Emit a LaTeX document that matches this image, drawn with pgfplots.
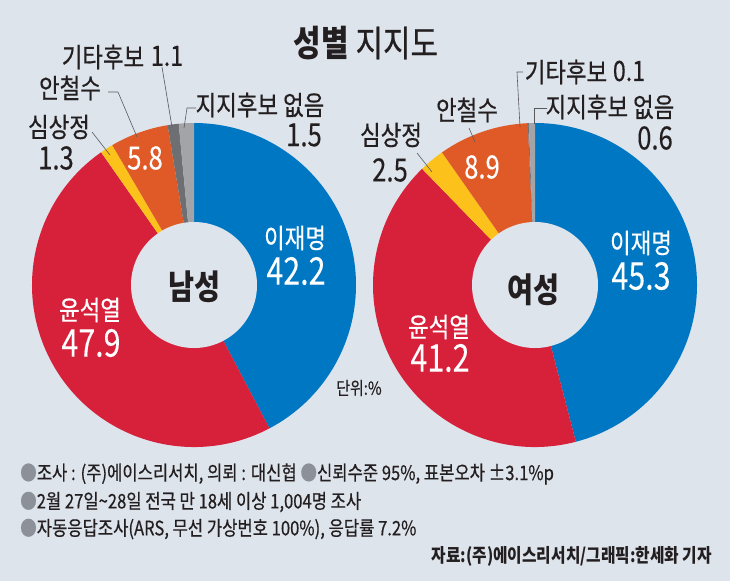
\documentclass[border=0pt]{standalone}
\usepackage{pgfplots}
\usepackage{pgfplotstable}
\pgfplotsset{compat=1.18}
\usepackage{fontspec}
\setmainfont{Noto Sans CJK KR}[FakeStretch=0.83, UprightFeatures={FakeBold=0.5}]
\newfontfamily\nf{Noto Sans CJK KR}[FakeStretch=0.8, UprightFeatures={FakeBold=0.15}]
\definecolor{bgc}{HTML}{DEE4EC}
\definecolor{cjm}{HTML}{0077C2}
\definecolor{cys}{HTML}{D7203A}
\definecolor{csj}{HTML}{FCC21B}
\definecolor{cac}{HTML}{E05A27}
\definecolor{cetc}{HTML}{6E6F72}
\definecolor{cnone}{HTML}{A2A4A8}
\definecolor{txt}{HTML}{231F20}
\definecolor{bul}{HTML}{8C9099}
\definecolor{lead}{HTML}{5A5A5E}

\pgfplotstableread{
cand val col
이재명 42.2 cjm
윤석열 47.9 cys
심상정 1.3 csj
안철수 5.8 cac
기타후보 1.1 cetc
없음 1.5 cnone
}\male
\pgfplotstableread{
cand val col
이재명 45.3 cjm
윤석열 41.2 cys
심상정 2.5 csj
안철수 8.9 cac
기타후보 0.1 cetc
없음 0.6 cnone
}\female

\newcommand\donut[5]{%
  \pgfplotstablegetrowsof{#1}\pgfmathtruncatemacro\nlast{\pgfplotsretval-1}%
  \gdef\dtot{0}%
  \foreach \i in {0,...,\nlast}{%
    \pgfplotstablegetelem{\i}{val}\of{#1}%
    \pgfmathsetmacro\dtmp{\dtot+\pgfplotsretval}\xdef\dtot{\dtmp}}%
  \pgfmathsetmacro\dk{360/\dtot}%
  \gdef\dcum{0}%
  \foreach \i in {0,...,\nlast}{%
    \pgfplotstablegetelem{\i}{val}\of{#1}\let\segv\pgfplotsretval
    \pgfplotstablegetelem{\i}{col}\of{#1}\let\segcol\pgfplotsretval
    \pgfmathsetmacro\aA{90-\dk*\dcum}%
    \pgfmathsetmacro\aB{90-\dk*(\dcum+\segv)}%
    \fill[\segcol] (axis cs:#2,#3) -- ++(\aA:#4pt) arc[start angle=\aA,end angle=\aB,radius=#4pt] -- cycle;
    \pgfmathsetmacro\dtmp{\dcum+\segv}\xdef\dcum{\dtmp}}%
  \fill[bgc] (axis cs:#2,#3) circle[radius=#5pt];
}
\newcommand\fs[1]{\fontsize{#1}{#1}\selectfont}

\begin{document}
\begin{tikzpicture}
\begin{axis}[
  scale only axis, width=730pt, height=581pt,
  xmin=0, xmax=730, ymin=0, ymax=581, y dir=reverse,
  enlargelimits=false, axis lines=none, ticks=none, clip=false,
]
\pgfplotsextra{
  \fill[bgc] (axis cs:0,0) rectangle (axis cs:730,581);
  \donut{\male}{194}{285}{162}{63}
  \donut{\female}{535}{285}{162}{63}
  % title
  \node[txt] at (axis cs:366,43) {\fs{36}\textbf{성별} 지지도};
  % left donut labels
  \node[white] at (axis cs:295,238) {\fs{27}이재명};
  \node[white] at (axis cs:296,271) {\nf\fs{38}42.2};
  \node[white] at (axis cs:90,310) {\fs{27}윤석열};
  \node[white] at (axis cs:91,343) {\nf\fs{38}47.9};
  \node[txt] at (axis cs:194,287) {\fs{34}\textbf{남성}};
  \node[white] at (axis cs:145,158) {\nf\fs{32}5.8};
  \node[txt] at (axis cs:59,127) {\fs{27}심상정};
  \node[txt] at (axis cs:56,158) {\nf\fs{32}1.3};
  \node[txt] at (axis cs:70,88) {\fs{27}안철수};
  \node[txt] at (axis cs:103,57) {\fs{27}기타후보};
  \node[txt] at (axis cs:167,56) {\fs{28}1.1};
  \node[txt] at (axis cs:260,105) {\fs{27}지지후보 없음};
  \node[txt] at (axis cs:304,135) {\nf\fs{32}1.5};
  \draw[lead, line width=0.6pt] (axis cs:108,92) -- (axis cs:118,92) -- (axis cs:137,137);
  \draw[lead, line width=0.6pt] (axis cs:92,132) -- (axis cs:110,155);
  \draw[lead, line width=0.6pt] (axis cs:162,67) -- (axis cs:172,127);
  \draw[lead, line width=0.6pt] (axis cs:196,108) -- (axis cs:187,108) -- (axis cs:184,128);
  % right donut labels
  \node[white] at (axis cs:641,243) {\fs{27}이재명};
  \node[white] at (axis cs:641,276) {\nf\fs{38}45.3};
  \node[white] at (axis cs:439,327) {\fs{27}윤석열};
  \node[white] at (axis cs:440,358) {\nf\fs{38}41.2};
  \node[txt] at (axis cs:533,290) {\fs{34}\textbf{여성}};
  \node[white] at (axis cs:482,167) {\nf\fs{32}8.9};
  \node[txt] at (axis cs:391,135) {\fs{27}심상정};
  \node[txt] at (axis cs:390,170) {\nf\fs{32}2.5};
  \node[txt] at (axis cs:467,110) {\fs{27}안철수};
  \node[txt] at (axis cs:566,72) {\fs{27}기타후보};
  \node[txt] at (axis cs:629,71) {\fs{28}0.1};
  \node[txt] at (axis cs:610,107) {\fs{27}지지후보 없음};
  \node[txt] at (axis cs:655,138) {\nf\fs{32}0.6};
  \draw[lead, line width=0.6pt] (axis cs:417,153) -- (axis cs:432,172);
  \draw[lead, line width=0.6pt] (axis cs:469,128) -- (axis cs:475,142);
  \draw[lead, line width=0.6pt] (axis cs:523,72) -- (axis cs:517,72) -- (axis cs:520,127);
  \draw[lead, line width=0.6pt] (axis cs:547,108) -- (axis cs:534,108) -- (axis cs:534,124);
  \node[txt] at (axis cs:359,388) {\fs{18}단위:\%};
  % footer
  \node[txt, anchor=west, inner sep=0pt] at (axis cs:20,474) {\fs{20}{\color{bul}●}조사 : (주)에이스리서치, 의뢰 : 대신협 {\color{bul}●}신뢰수준 95\%, 표본오차 ±3.1\%p};
  \node[txt, anchor=west, inner sep=0pt] at (axis cs:20,502) {\fs{20}{\color{bul}●}2월 27일\textasciitilde 28일 전국 만 18세 이상 1,004명 조사};
  \node[txt, anchor=west, inner sep=0pt] at (axis cs:20,529) {\fs{20}{\color{bul}●}자동응답조사(ARS, 무선 가상번호 100\%), 응답률 7.2\%};
  \node[txt, anchor=east, inner sep=0pt] at (axis cs:712,556) {\fs{19}\textbf{자료:(주)에이스리서치/그래픽:한세화 기자}};
}
\end{axis}
\end{tikzpicture}
\end{document}
